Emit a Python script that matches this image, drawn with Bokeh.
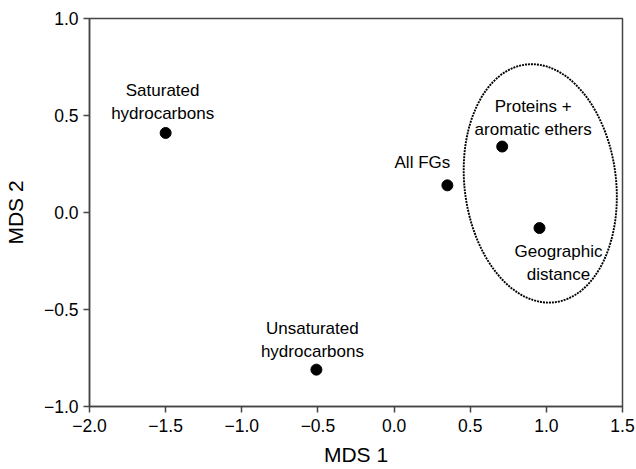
from bokeh.plotting import figure
from bokeh.models import ColumnDataSource, FixedTicker
from bokeh.core.properties import value
from bokeh.embed import file_html
from bokeh.resources import INLINE

# data
names = ["Saturated\nhydrocarbons", "All FGs", "Proteins +\naromatic ethers",
         "Geographic\ndistance", "Unsaturated\nhydrocarbons"]
mds1 = [-1.50, 0.35, 0.71, 0.955, -0.51]
mds2 = [0.41, 0.14, 0.34, -0.08, -0.81]

# label placement (screen px) and anchors
label_dx = [-3, -25, 31, 19, -4]
label_dy = [-10, -13, -8, 14, -9]
label_base = ["bottom", "bottom", "bottom", "top", "bottom"]

# grouping ellipse (data units)
ell_x = [0.96]
ell_y = [0.15]
ell_w = [0.995]
ell_h = [1.235]

x_ticks = [-2.0, -1.5, -1.0, -0.5, 0.0, 0.5, 1.0, 1.5]
y_ticks = [-1.0, -0.5, 0.0, 0.5, 1.0]

def fmt(v):
    s = f"{abs(v):.1f}"
    return ("\u2212" + s) if v < 0 else s

FONT = "Liberation Sans"
AX = "#454545"

p = figure(width=636, height=469, x_range=(-2.0, 1.5), y_range=(-1.0, 1.0),
           output_backend="svg", toolbar_location=None,
           min_border_left=87, min_border_right=14, min_border_top=18,
           min_border_bottom=63)
p.xgrid.visible = False
p.ygrid.visible = False
p.background_fill_color = "white"
p.border_fill_color = "white"
p.outline_line_color = AX
p.outline_line_width = 1.5

for ax, ticks in ((p.xaxis[0], x_ticks), (p.yaxis[0], y_ticks)):
    ax.ticker = FixedTicker(ticks=ticks)
    ax.major_label_overrides = {t: fmt(t) for t in ticks}
    ax.minor_tick_line_color = None
    ax.major_tick_in = 0
    ax.major_tick_out = 6
    ax.axis_line_color = AX
    ax.axis_line_width = 1.5
    ax.major_tick_line_color = AX
    ax.major_tick_line_width = 1.5
    ax.major_label_text_font = FONT
    ax.major_label_text_font_size = "17.5px"
    ax.major_label_text_color = "black"
    ax.axis_label_text_font = FONT
    ax.axis_label_text_font_size = "21px"
    ax.axis_label_text_font_style = "normal"
    ax.axis_label_text_color = "black"

p.xaxis.axis_label = "MDS 1"
p.yaxis.axis_label = "MDS 2"
p.xaxis.major_label_standoff = 6
p.yaxis.major_label_standoff = 5
p.xaxis.axis_label_standoff = 8
p.yaxis.axis_label_standoff = 14

p.ellipse(x=ell_x, y=ell_y, width=ell_w, height=ell_h, angle=0.12,
          fill_color=None, line_color="black", line_width=1.9, line_dash="2 1")

src = ColumnDataSource(dict(x=mds1, y=mds2, name=names, dx=label_dx,
                            dy=label_dy, base=label_base))
p.scatter(x="x", y="y", source=src, size=11, fill_color="black", line_color="black")

for b in ("bottom", "top"):
    idx = [i for i, v in enumerate(label_base) if v == b]
    s = ColumnDataSource(dict(x=[mds1[i] for i in idx], y=[mds2[i] for i in idx],
                              name=[names[i] for i in idx],
                              dx=[label_dx[i] for i in idx],
                              dy=[label_dy[i] for i in idx]))
    p.text(x="x", y="y", text="name", source=s, x_offset="dx", y_offset="dy",
           text_align="center", text_baseline=b, text_font=value(FONT),
           text_font_size="17px", text_color="black", text_line_height=1.2)

open("out.html", "w").write(file_html(p, INLINE))
